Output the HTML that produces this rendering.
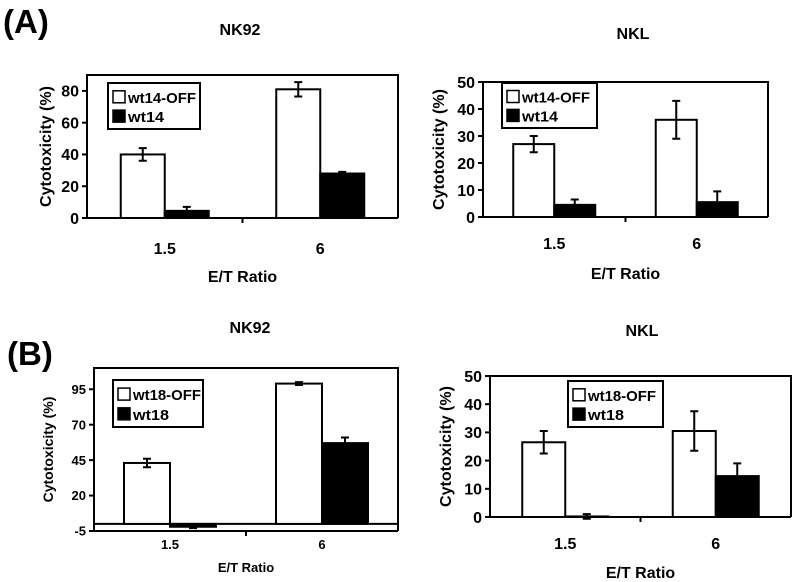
<!DOCTYPE html>
<html><head><meta charset="utf-8"><style>
html,body{margin:0;padding:0;background:#fff;}
svg{display:block;font-family:"Liberation Sans",Arial,sans-serif;font-weight:bold;}
</style></head><body>
<svg id="fig" width="800" height="582" viewBox="0 0 800 582">
<text x="3" y="33" font-size="33">(A)</text>
<text x="7" y="365" font-size="33">(B)</text>
</svg>
<script>
const categories = ["1.5", "6"];
// Panel A NK92
const aNk92Off = [40, 81];
const aNk92OffErr = [4, 4.5];
const aNk92On = [4.5, 28];
const aNk92OnErr = [2.5, 1];
const aNk92Ticks = [0, 20, 40, 60, 80];
// Panel A NKL
const aNklOff = [27, 36];
const aNklOffErr = [3, 7];
const aNklOn = [4.5, 5.5];
const aNklOnErr = [2, 4];
const aNklTicks = [0, 10, 20, 30, 40, 50];
// Panel B NK92
const bNk92Off = [43, 99];
const bNk92OffErr = [3, 1];
const bNk92On = [-2, 57];
const bNk92OnErr = [1, 4];
const bNk92Ticks = [-5, 20, 45, 70, 95];
// Panel B NKL
const bNklOff = [26.5, 30.5];
const bNklOffErr = [4, 7];
const bNklOn = [0.2, 14.5];
const bNklOnErr = [0.8, 4.5];
const bNklTicks = [0, 10, 20, 30, 40, 50];

const NS = "http://www.w3.org/2000/svg";
const svg = document.getElementById("fig");
function mk(tag, attrs, parent) {
  const e = document.createElementNS(NS, tag);
  for (const k in attrs) e.setAttribute(k, attrs[k]);
  (parent || svg).appendChild(e);
  return e;
}

function panel(p) {
  const g = mk("g", {});
  
  
  const y = v => p.y1 - (v - p.ymin) / (p.ymax - p.ymin) * (p.y1 - p.y0);
  const catW = (p.x1 - p.x0) / categories.length;
  const cx = i => p.x0 + catW * (i + 0.5);
  const fr = mk("path", {d:`M${p.x0},${p.y1} L${p.x0},${p.y0} L${p.x1},${p.y0} L${p.x1},${p.y1}`, fill:"none", stroke:"#000", "stroke-width":2}, g);
  
  
  const ax = mk("line", {x1:p.x0, x2:p.x1, y1:p.y1, y2:p.y1, stroke:"#000", "stroke-width":2}, g);
  
  
  if (p.ymin < 0) {
    const z = mk("line", {x1:p.x0, x2:p.x1, y1:y(0), y2:y(0), stroke:"#000", "stroke-width":2}, g);
    
    
  }
  for (let i = 1; i < categories.length; i++) {
    const xx = p.x0 + catW * i;
    const t = mk("line", {x1:xx, x2:xx, y1:p.y1, y2:p.y1 + 5, stroke:"#000", "stroke-width":2}, g);
    
    
  }
  p.ticks.forEach(v => {
    const tl = mk("line", {x1:p.x0 - 5, x2:p.x0, y1:y(v), y2:y(v), stroke:"#000", "stroke-width":2}, g);
    
    
    const tt = mk("text", {x:p.x0 - 8, y:y(v) + p.fs * 0.36, "font-size":p.fs, "text-anchor":"end"}, g);
    tt.textContent = v;
    
    
  });
  const bw = p.bw;
  [[p.off, p.offErr, "#fff", "off"], [p.on, p.onErr, "#000", "on"]].forEach(([vals, errs, fill, key], s) => {
    vals.forEach((v, i) => {
      const left = s === 0 ? cx(i) - bw : cx(i);
      const top = Math.min(y(v), y(0)), h = Math.abs(y(v) - y(0));
      const r = mk("rect", {x:left, y:top, width:bw, height:Math.max(h, 0.5), fill:fill, stroke:"#000", "stroke-width":2}, g);
      
      
      const ex = left + bw / 2, e = errs[i];
      const eb = mk("path", {d:`M${ex},${y(v - e)} L${ex},${y(v + e)} M${ex - 4},${y(v + e)} L${ex + 4},${y(v + e)} M${ex - 4},${y(v - e)} L${ex + 4},${y(v - e)}`, stroke:"#000", "stroke-width":2, fill:"none"}, g);
      
      
    });
  });
  categories.forEach((c, i) => {
    const t = mk("text", {x:cx(i), y:p.xly, "font-size":p.fs, "text-anchor":"middle"}, g);
    t.textContent = c;
    
    
  });
  const xt = mk("text", {x:(p.x0 + p.x1) / 2, y:p.xty, "font-size":p.fs, "text-anchor":"middle"}, g);
  xt.textContent = "E/T Ratio";
  
  
  const ym = (p.y0 + p.y1) / 2;
  const yt = mk("text", {x:p.ytx, y:ym, "font-size":p.yfs, "text-anchor":"middle", transform:`rotate(-90 ${p.ytx} ${ym})`}, g);
  yt.textContent = "Cytotoxicity (%)";
  
  
  const ti = mk("text", {x:p.tx, y:p.ty, "font-size":16, "text-anchor":"middle"}, g);
  ti.textContent = p.title;
  
  
  const L = p.leg;
  const lg = mk("g", {}, g);
  
  
  mk("rect", {x:L[0], y:L[1], width:L[2], height:L[3], fill:"#fff", stroke:"#000", "stroke-width":2}, lg);
  [[p.labels[0], "#fff", 68], [p.labels[1], "#000", 36]].forEach(([lab, fill, tl], k) => {
    const ry = L[1] + L[3] * (k === 0 ? 0.3 : 0.72);
    const sw = mk("rect", {x:L[0] + 5, y:ry - 6, width:12, height:12, fill:fill, stroke:"#000", "stroke-width":1.5}, lg);
    
    
    const lt = mk("text", {x:L[0] + 20, y:ry + 6, "font-size":15, textLength:tl, lengthAdjust:"spacingAndGlyphs"}, lg);
    lt.textContent = lab;
    
    
  });
}

panel({name:"chart-a-nk92", title:"NK92", tx:240, ty:35, x0:87, x1:398, y0:75, y1:218, ymin:0, ymax:90, ticks:aNk92Ticks,
  off:aNk92Off, offErr:aNk92OffErr, on:aNk92On, onErr:aNk92OnErr, bw:44, fs:16, yfs:16, xly:254, xty:282, ytx:51,
  leg:[108,83,92,46], labels:["wt14-OFF","wt14"]});
panel({name:"chart-a-nkl", title:"NKL", tx:633, ty:39, x0:483, x1:768, y0:82, y1:217, ymin:0, ymax:50, ticks:aNklTicks,
  off:aNklOff, offErr:aNklOffErr, on:aNklOn, onErr:aNklOnErr, bw:41, fs:16, yfs:16, xly:249, xty:279, ytx:444,
  leg:[502,83,95,45], labels:["wt14-OFF","wt14"]});
panel({name:"chart-b-nk92", title:"NK92", tx:250, ty:333, x0:94, x1:398, y0:368, y1:531, ymin:-5, ymax:110, ticks:bNk92Ticks,
  off:bNk92Off, offErr:bNk92OffErr, on:bNk92On, onErr:bNk92OnErr, bw:46, fs:13, yfs:14, xly:549, xty:572, ytx:53,
  leg:[113,380,90,47], labels:["wt18-OFF","wt18"]});
panel({name:"chart-b-nkl", title:"NKL", tx:642, ty:336, x0:490, x1:791, y0:376, y1:517, ymin:0, ymax:50, ticks:bNklTicks,
  off:bNklOff, offErr:bNklOffErr, on:bNklOn, onErr:bNklOnErr, bw:43, fs:16, yfs:16, xly:549, xty:578, ytx:451,
  leg:[568,381,95,46], labels:["wt18-OFF","wt18"]});
</script>
</body></html>
